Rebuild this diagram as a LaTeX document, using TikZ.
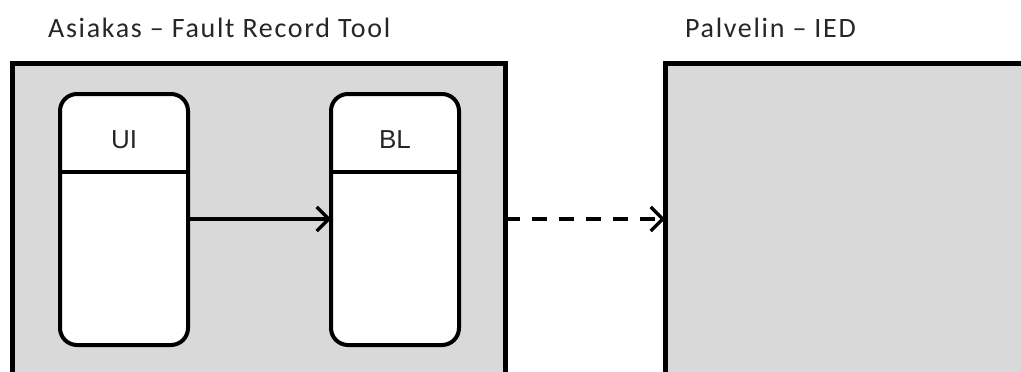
\documentclass[tikz,border=0pt]{standalone}
\usepackage{fontspec}
\setmainfont{Carlito}
\newfontfamily\captionfont[LetterSpace=6]{Carlito}
\newfontfamily\labelfont{Liberation Sans}
\usetikzlibrary{arrows.meta}
\definecolor{panelgray}{HTML}{D9D9D9}
\definecolor{inkgray}{HTML}{262626}
\tikzset{
  panel/.style={draw=black, fill=panelgray, line width=5pt, outer sep=0pt,
    inner sep=0pt, anchor=north west},
  compbox/.style={draw=black, fill=white, line width=4pt, rounded corners=17pt,
    outer sep=0pt, inner sep=0pt, anchor=north west,
    minimum width=128pt, minimum height=251pt},
  divider/.style={line width=4pt},
  caption/.style={font=\captionfont\fontsize{28}{33}\selectfont, text=inkgray,
    inner sep=0pt, anchor=base west},
  complabel/.style={font=\labelfont\fontsize{26}{30}\selectfont, text=inkgray,
    inner sep=0pt, anchor=base},
  link/.style={line width=3.2pt, -{Straight Barb[length=12pt,width=24pt,line width=3.2pt]}},
  remote/.style={link, dash pattern=on 15pt off 12pt},
}
\begin{document}
\begin{tikzpicture}[x=1pt, y=-1pt]
  \useasboundingbox (0,0) rectangle (1021,372);
  \clip (0,0) rectangle (1021,372);
  \fill[white] (0,0) rectangle (1021,372);

  % client and server panels, both running past the lower and right edges
  \node[panel, minimum width=493pt, minimum height=340pt] (client) at (12,63) {};
  \node[panel, minimum width=400pt, minimum height=340pt] (server) at (665,63) {};

  \node[caption] (clientcap) at (48,37) {Asiakas – Fault Record Tool};
  \node[caption] (servercap) at (685,37) {Palvelin – IED};

  % components inside the client
  \node[compbox] (ui) at (60,94) {};
  \node[compbox] (bl) at (331,94) {};
  \draw[divider] (ui.west |- 0,172) -- (ui.east |- 0,172);
  \draw[divider] (bl.west |- 0,172) -- (bl.east |- 0,172);
  \node[complabel] (uilabel) at (ui.north |- 0,148) {UI};
  \node[complabel] (bllabel) at (bl.north |- 0,148) {BL};

  % connectors
  \draw[link] (ui.east |- 0,219) -- (bl.west |- 0,219);
  \draw[remote] (client.east |- 0,219) -- (server.west |- 0,219);
\end{tikzpicture}
\end{document}
